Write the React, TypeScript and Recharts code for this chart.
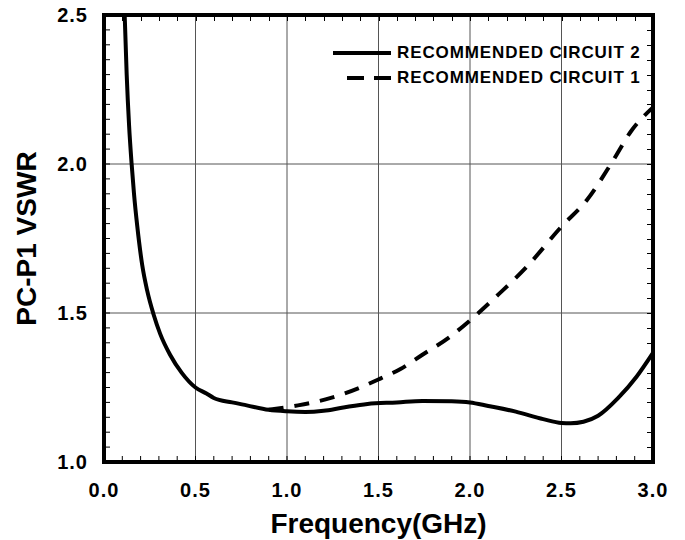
import React from "react";
import {
  LineChart,
  Line,
  XAxis,
  YAxis,
  CartesianGrid,
  Legend,
} from "recharts";

// Recommended circuit 2 (solid)
const freq2 = [
  0.113, 0.124, 0.137, 0.151, 0.164, 0.182, 0.209, 0.236, 0.271, 0.307, 0.361,
  0.424, 0.5, 0.56, 0.6, 0.7, 0.78, 0.9, 1.0, 1.1, 1.2, 1.3, 1.44, 1.6, 1.74,
  1.9, 2.0, 2.1, 2.25, 2.4, 2.5, 2.55, 2.62, 2.7, 2.81, 2.91, 3.0,
];
const vswr2 = [
  2.5, 2.3, 2.13, 2.0, 1.9, 1.79, 1.66, 1.575, 1.495, 1.43, 1.36, 1.3, 1.25,
  1.23, 1.215, 1.2, 1.19, 1.175, 1.17, 1.168, 1.172, 1.182, 1.195, 1.2, 1.205,
  1.204, 1.2, 1.188, 1.169, 1.144, 1.131, 1.13, 1.135, 1.155, 1.215, 1.286,
  1.366,
];

// Recommended circuit 1 (dashed)
const freq1 = [
  0.9, 1.06, 1.24, 1.4, 1.51, 1.62, 1.74, 1.89, 2.0, 2.16, 2.31, 2.5, 2.64,
  2.78, 2.88, 3.0,
];
const vswr1 = [
  1.175, 1.19, 1.215, 1.25, 1.28, 1.312, 1.36, 1.42, 1.475, 1.565, 1.655, 1.79,
  1.88, 2.01, 2.11, 2.19,
];

const freqMajor = [0, 0.5, 1.0, 1.5, 2.0, 2.5, 3.0];
const vswrMajor = [1.0, 1.5, 2.0, 2.5];
const freqDomain = [0, 3];
const vswrDomain = [1, 2.5];
const freqStep = 0.1;
const vswrStep = 0.05;

const seriesNames = ["RECOMMENDED CIRCUIT 2", "RECOMMENDED CIRCUIT 1"];

const FONT = '"Liberation Sans", Arial, Helvetica, sans-serif';
const DASH = "15 11";

// layout
const W = 685;
const H = 540;
const MARGIN = { top: 15, right: 32, bottom: 0, left: 0 };
const Y_AXIS_W = 104;
const X_AXIS_H = 78;
const BORDER = 4;
const plot = {
  x: MARGIN.left + Y_AXIS_W,
  y: MARGIN.top,
  w: W - MARGIN.left - MARGIN.right - Y_AXIS_W,
  h: H - MARGIN.top - MARGIN.bottom - X_AXIS_H,
};

const steps = (min: number, max: number, step: number) => {
  const n = Math.round((max - min) / step);
  return Array.from({ length: n + 1 }, (_, i) => +(min + i * step).toFixed(3));
};

const freqMinor = steps(freqDomain[0], freqDomain[1], freqStep);
const vswrMinor = steps(vswrDomain[0], vswrDomain[1], vswrStep);

const isMajor = (v: number, list: number[]) =>
  list.some((m) => Math.abs(m - v) < 1e-6);

const circuit2 = freq2.map((f, i) => ({ f, v: vswr2[i] }));
const circuit1 = freq1.map((f, i) => ({ f, v: vswr1[i] }));

const tickText = {
  fontFamily: FONT,
  fontWeight: 700,
  fontSize: 20,
  letterSpacing: 1,
  fill: "#000",
};
const minorTick = { stroke: "#000", strokeWidth: 1 };

const YTitle = ({ viewBox }: any) => {
  const cx = 36;
  const cy = viewBox.y + viewBox.height / 2;
  return (
    <text
      x={cx}
      y={cy}
      transform={`rotate(-90, ${cx}, ${cy})`}
      textAnchor="middle"
      fontFamily={FONT}
      fontWeight={700}
      fontSize={28}
      fill="#000"
    >
      PC-P1 VSWR
    </text>
  );
};

const renderLegend = ({ payload }: any) => (
  <div style={{ fontFamily: FONT, fontWeight: 700, fontSize: 17, letterSpacing: 0.9 }}>
    {(payload || []).map((entry: any, i: number) => {
      const dashed = entry.value === seriesNames[1];
      return (
        <div
          key={i}
          style={{ display: "flex", alignItems: "center", height: 25, whiteSpace: "nowrap" }}
        >
          <svg width={58} height={10} style={{ display: "block" }}>
            <line
              x1={dashed ? 14 : 0}
              x2={58}
              y1={5}
              y2={5}
              stroke="#000"
              strokeWidth={4}
              strokeDasharray={dashed ? "17 10" : undefined}
            />
          </svg>
          <span style={{ marginLeft: 6, color: "#000" }}>{entry.value}</span>
        </div>
      );
    })}
  </div>
);

// heavy border plus inward minor ticks on the top and right edges
function Frame() {
  const fx = (f: number) =>
    plot.x + ((f - freqDomain[0]) / (freqDomain[1] - freqDomain[0])) * plot.w;
  const vy = (v: number) =>
    plot.y + ((vswrDomain[1] - v) / (vswrDomain[1] - vswrDomain[0])) * plot.h;
  const b = BORDER / 2;
  return (
    <svg
      width={W}
      height={H}
      style={{ position: "absolute", left: 0, top: 0, zIndex: 5, pointerEvents: "none" }}
    >
      {freqMinor.map((f) => (
        <rect key={`t${f}`} x={Math.round(fx(f))} y={plot.y} width={1} height={6} fill="#000" />
      ))}
      {vswrMinor.map((v) => (
        <rect
          key={`r${v}`}
          x={plot.x + plot.w - 6}
          y={Math.round(vy(v))}
          width={6}
          height={1}
          fill="#000"
        />
      ))}
      <rect x={plot.x - b} y={plot.y - b} width={plot.w + BORDER} height={BORDER} fill="#000" />
      <rect x={plot.x - b} y={plot.y + plot.h - b} width={plot.w + BORDER} height={BORDER} fill="#000" />
      <rect x={plot.x - b} y={plot.y - b} width={BORDER} height={plot.h + BORDER} fill="#000" />
      <rect x={plot.x + plot.w - b} y={plot.y - b} width={BORDER} height={plot.h + BORDER} fill="#000" />
    </svg>
  );
}

export default function App() {
  return (
    <div style={{ position: "absolute", left: 0, top: 0, width: W, height: H, background: "#fff" }}>
      <LineChart width={W} height={H} margin={MARGIN}>
        <CartesianGrid
          stroke="#555"
          strokeWidth={1}
          verticalValues={freqMajor}
          horizontalValues={vswrMajor}
        />
        <XAxis
          type="number"
          dataKey="f"
          domain={freqDomain}
          ticks={freqMinor}
          interval={0}
          allowDataOverflow
          height={X_AXIS_H}
          tickSize={-6}
          tickMargin={27}
          tickLine={minorTick}
          tick={tickText}
          tickFormatter={(v: number) => (isMajor(v, freqMajor) ? v.toFixed(1) : "")}
          axisLine={false}
          label={{
            value: "Frequency(GHz)",
            position: "insideBottom",
            offset: 7,
            fill: "#000",
            fontSize: 28,
            fontWeight: 700,
            fontFamily: FONT,
          }}
        />
        <YAxis
          type="number"
          domain={vswrDomain}
          ticks={vswrMinor}
          interval={0}
          allowDataOverflow
          width={Y_AXIS_W}
          tickSize={-6}
          tickMargin={22}
          tickLine={minorTick}
          tick={tickText}
          tickFormatter={(v: number) => (isMajor(v, vswrMajor) ? v.toFixed(1) : "")}
          axisLine={false}
          label={<YTitle />}
        />
        <Legend
          layout="vertical"
          align="center"
          verticalAlign="middle"
          itemSorter={(item: any) => seriesNames.indexOf(item.value)}
          content={renderLegend}
          wrapperStyle={{ top: 40, left: 333, width: 330 }}
        />
        <Line
          data={circuit2}
          dataKey="v"
          name={seriesNames[0]}
          type="monotone"
          stroke="#000"
          strokeWidth={4}
          dot={false}
          activeDot={false}
          isAnimationActive={false}
        />
        <Line
          data={circuit1}
          dataKey="v"
          name={seriesNames[1]}
          type="monotone"
          stroke="#000"
          strokeWidth={4}
          strokeDasharray={DASH}
          dot={false}
          activeDot={false}
          isAnimationActive={false}
        />
      </LineChart>
      <Frame />
    </div>
  );
}
